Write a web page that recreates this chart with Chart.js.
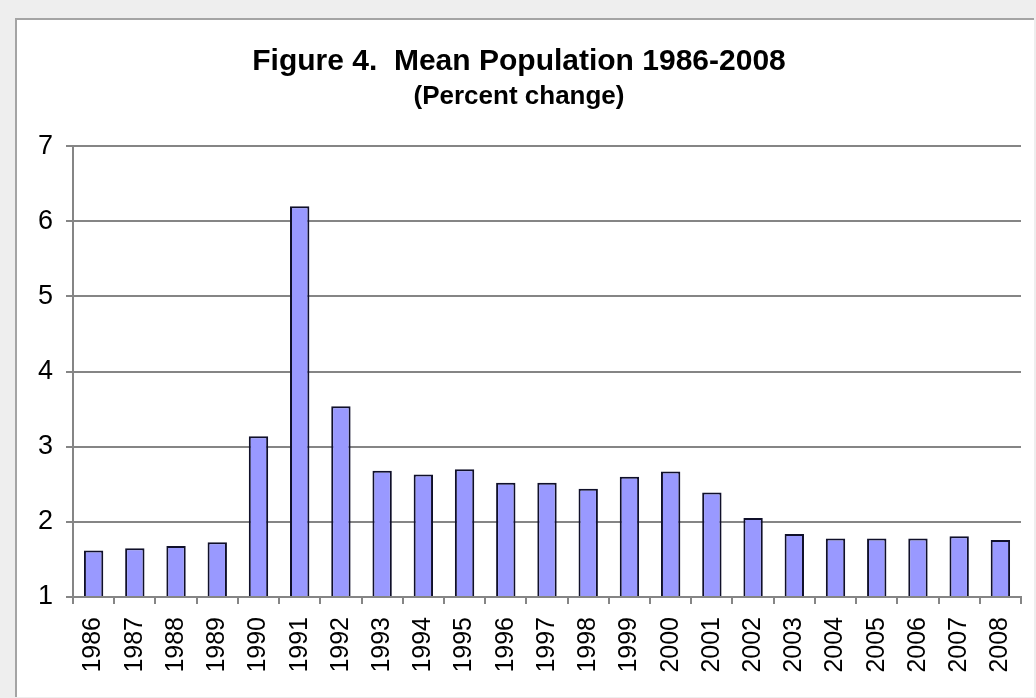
<!DOCTYPE html>
<html>
<head>
<meta charset="utf-8">
<title>Figure 4. Mean Population 1986-2008</title>
<script src="https://cdn.jsdelivr.net/npm/chart.js@4.4.1/dist/chart.umd.min.js"></script>
<style>
  html, body { margin: 0; padding: 0; background: #eeeeee; }
  body { width: 1036px; height: 698px; position: relative; overflow: hidden; }
  #frame {
    position: absolute; left: 15px; top: 18px; width: 1019px; height: 679px;
    background: #ffffff; border-top: 2px solid #a4a4a4; border-left: 2px solid #a4a4a4;
    box-sizing: border-box;
  }
  #chart { position: absolute; left: 0; top: 0; }
</style>
</head>
<body>
<div id="frame"></div>
<canvas id="chart" width="1036" height="698"></canvas>
<script>
// Annual mean population, percent change
const years = ['1986','1987','1988','1989','1990','1991','1992','1993','1994','1995','1996','1997',
               '1998','1999','2000','2001','2002','2003','2004','2005','2006','2007','2008'];
const percentChange = [1.62, 1.65, 1.68, 1.73, 3.14, 6.20, 3.54, 2.68, 2.63, 2.70, 2.52, 2.52,
                       2.44, 2.60, 2.67, 2.39, 2.05, 1.84, 1.78, 1.78, 1.78, 1.81, 1.76];
const yTicks = [1, 2, 3, 4, 5, 6, 7];

const titleText = 'Figure 4.  Mean Population 1986-2008';
const subtitleText = '(Percent change)';

const sansFamily = "'Liberation Sans', Arial, sans-serif";
const gridGray = '#858585';

new Chart(document.getElementById('chart'), {
  type: 'bar',
  data: {
    labels: years,
    datasets: [{
      data: percentChange,
      base: yTicks[0],
      backgroundColor: '#9999ff',
      borderColor: '#10102a',
      borderWidth: 2,
      categoryPercentage: 1.0,
      barPercentage: 0.47
    }]
  },
  options: {
    responsive: false,
    animation: false,
    layout: { padding: { left: 17, right: 15, top: 0, bottom: 0 } },
    plugins: {
      legend: { display: false },
      tooltip: { enabled: false },
      title: {
        display: true,
        text: titleText,
        color: '#000000',
        font: { family: sansFamily, size: 30, weight: 'bold' },
        padding: { top: 44, bottom: 0 }
      },
      subtitle: {
        display: true,
        text: subtitleText,
        color: '#000000',
        font: { family: sansFamily, size: 26, weight: 'bold' },
        padding: { top: 1, bottom: 34 }
      }
    },
    scales: {
      x: {
        grid: {
          offset: true,
          drawOnChartArea: false,
          drawTicks: true,
          tickLength: 7,
          color: gridGray,
          lineWidth: 2
        },
        border: { display: true, color: gridGray, width: 2 },
        ticks: {
          color: '#000000',
          font: { family: sansFamily, size: 25 },
          minRotation: 90,
          maxRotation: 90,
          padding: 13,
          autoSkip: false
        },
        afterFit(scale) {
          scale.height = 101;
          scale.paddingLeft = 0;
          scale.paddingRight = 0;
        }
      },
      y: {
        min: yTicks[0],
        max: yTicks[yTicks.length - 1],
        afterBuildTicks(scale) { scale.ticks = yTicks.map(v => ({ value: v })); },
        grid: {
          color: gridGray,
          lineWidth: 2,
          drawTicks: true,
          tickLength: 7
        },
        border: { display: true, color: gridGray, width: 2 },
        ticks: {
          color: '#000000',
          font: { family: sansFamily, size: 27 },
          padding: 13
        },
        afterFit(scale) { scale.width = 56; }
      }
    }
  }
});
</script>
</body>
</html>
